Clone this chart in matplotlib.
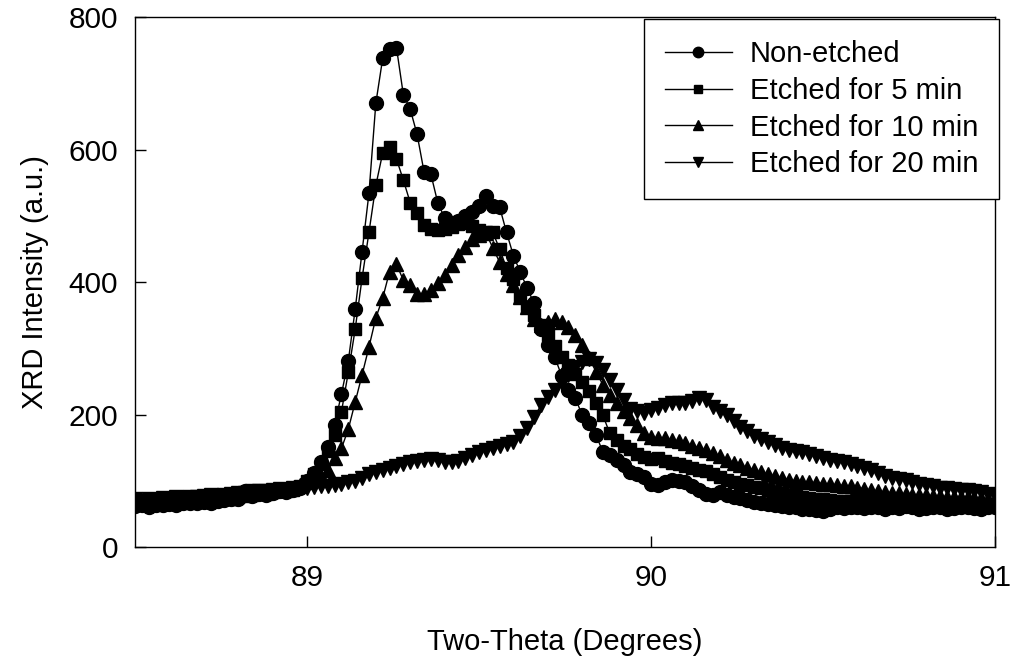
import matplotlib
matplotlib.use('Agg')

import numpy as np
import matplotlib.pyplot as plt

plt.rcParams['font.family'] = ['Liberation Sans', 'DejaVu Sans']

# scan grid: 88.50 .. 91.00 deg, 0.02 deg step
two_theta = np.round(np.arange(88.50, 91.001, 0.02), 2)

non_etched = [
    62, 63, 61, 64, 63, 65, 64, 66, 66, 67,
    68, 67, 70, 71, 72, 73, 84, 77, 80, 78,
    82, 84, 83, 86, 90, 100, 112, 129, 151, 184,
    231, 281, 359, 446, 534, 670, 738, 752, 754, 683,
    661, 623, 567, 563, 520, 497, 490, 493, 500, 506,
    515, 530, 515, 513, 475, 440, 415, 391, 368, 330,
    305, 287, 259, 237, 225, 199, 187, 169, 144, 139,
    131, 124, 114, 110, 106, 96, 94, 98, 101, 100,
    99, 93, 86, 80, 79, 83, 78, 76, 74, 71,
    68, 66, 65, 64, 62, 61, 60, 58, 57, 56,
    54, 58, 60, 59, 61, 60, 59, 61, 60, 58,
    60, 59, 62, 60, 58, 59, 61, 60, 58, 59,
    60, 61, 59, 58, 60, 61,
]

etched_5 = [
    65, 66, 64, 67, 65, 68, 67, 69, 68, 70,
    71, 70, 72, 74, 73, 75, 77, 79, 81, 80,
    83, 84, 85, 87, 92, 100, 110, 125, 145, 169,
    204, 264, 329, 406, 475, 546, 595, 604, 586, 554,
    520, 504, 486, 480, 478, 480, 484, 488, 490, 485,
    478, 476, 475, 450, 421, 405, 378, 363, 350, 335,
    320, 303, 287, 275, 262, 250, 235, 218, 199, 172,
    161, 152, 148, 140, 136, 133, 134, 130, 127, 125,
    122, 120, 117, 115, 110, 106, 102, 99, 96, 94,
    91, 89, 86, 83, 81, 79, 77, 76, 74, 73,
    72, 71, 70, 70, 69, 69, 68, 68, 67, 67,
    66, 66, 66, 65, 65, 65, 65, 64, 64, 64,
    64, 63, 64, 63, 63, 63,
]

etched_10 = [
    68, 69, 67, 70, 68, 71, 70, 72, 71, 73,
    74, 73, 75, 77, 76, 78, 80, 82, 84, 83,
    86, 87, 88, 90, 94, 98, 103, 108, 116, 134,
    149, 178, 219, 260, 302, 346, 376, 416, 427, 403,
    395, 382, 382, 388, 398, 411, 426, 441, 453, 465,
    471, 474, 452, 430, 412, 395, 378, 362, 345, 336,
    340, 345, 340, 332, 320, 305, 285, 265, 245, 230,
    218, 206, 195, 184, 172, 166, 164, 164, 162, 160,
    157, 153, 150, 146, 142, 137, 131, 127, 124, 120,
    116, 113, 110, 107, 104, 102, 100, 99, 98, 97,
    96, 95, 94, 93, 92, 90, 88, 86, 84, 83,
    82, 81, 80, 79, 78, 78, 77, 77, 76, 76,
    75, 75, 74, 74, 73, 73,
]

etched_20 = [
    72, 70, 73, 71, 74, 72, 75, 74, 76, 75,
    77, 78, 77, 79, 80, 81, 82, 84, 85, 84,
    86, 88, 87, 89, 90, 90, 91, 92, 93, 94,
    96, 98, 100, 105, 110, 114, 117, 120, 123, 126,
    128, 130, 132, 133, 131, 129, 128, 130, 134, 139,
    144, 146, 149, 152, 156, 159, 168, 180, 196, 214,
    226, 237, 248, 260, 272, 280, 284, 278, 268, 252,
    237, 222, 208, 205, 203, 207, 210, 215, 218, 217,
    217, 220, 225, 222, 212, 205, 199, 190, 182, 175,
    168, 163, 158, 154, 150, 147, 145, 143, 140, 137,
    134, 132, 130, 128, 126, 122, 119, 116, 112, 108,
    105, 103, 101, 99, 96, 94, 92, 90, 89, 88,
    87, 86, 85, 83, 80, 78,
]

labels = ['Non-etched', 'Etched for 5 min', 'Etched for 10 min', 'Etched for 20 min']
series = [non_etched, etched_5, etched_10, etched_20]
markers = ['o', 's', '^', 'v']
msizes = [10, 8.5, 9.5, 9.5]

fig = plt.figure(figsize=(10.19, 6.6), dpi=100)
ax = fig.add_axes([0.1325, 0.171, 0.844, 0.803])

for y, lab, m, ms in zip(series, labels, markers, msizes):
    ax.plot(two_theta, y, color='black', linewidth=1.0, marker=m,
            markersize=ms, markerfacecolor='black', markeredgecolor='black',
            label=lab)

ax.set_xlim(88.5, 91)
ax.set_ylim(0, 800)
ax.set_xticks([89, 90, 91])
ax.set_yticks([0, 200, 400, 600, 800])
ax.tick_params(direction='in', length=8, width=1, labelsize=21.5, pad=12,
               top=False, right=False)

for s in ax.spines.values():
    s.set_linewidth(1.0)

ax.set_xlabel('Two-Theta (Degrees)', fontsize=21, labelpad=26)
ax.set_ylabel('XRD Intensity (a.u.)', fontsize=21, labelpad=14)

leg = ax.legend(loc='upper right', bbox_to_anchor=(999 / 1019, 1 - 19 / 660),
                bbox_transform=fig.transFigure, borderaxespad=0,
                fontsize=21, frameon=True, fancybox=False, edgecolor='black',
                handlelength=2.3, handletextpad=0.6, labelspacing=0.3,
                borderpad=0.72, markerscale=0.75)
leg.get_frame().set_linewidth(1.0)
leg.get_frame().set_alpha(1)

plt.savefig('out.png', dpi=100)
